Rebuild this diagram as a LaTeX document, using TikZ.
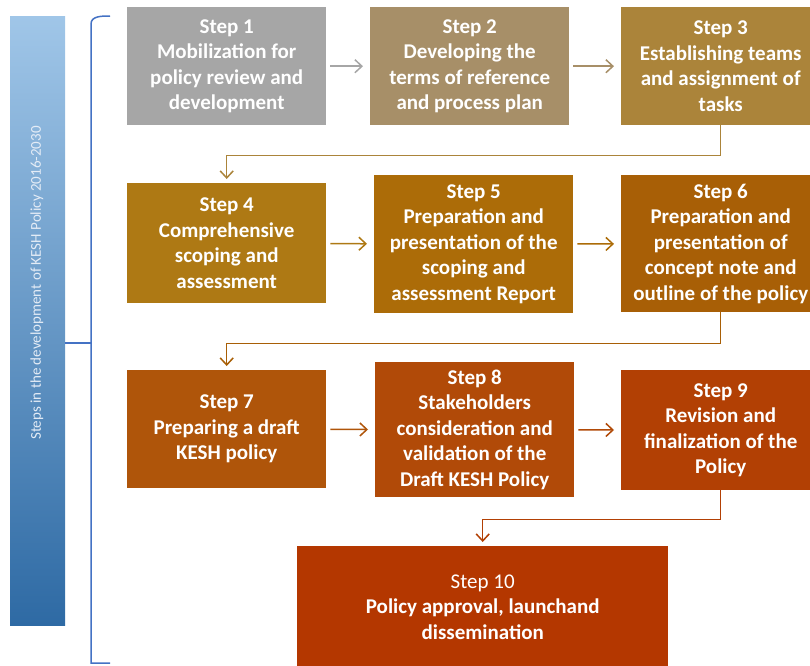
\documentclass[tikz,border=0pt]{standalone}
\usepackage{fontspec}
\setmainfont{Carlito}
\usetikzlibrary{arrows.meta}
\definecolor{stepa}{RGB}{166,166,166}
\definecolor{stepb}{RGB}{167,143,104}
\definecolor{stepc}{RGB}{171,132,58}
\definecolor{stepd}{RGB}{174,121,20}
\definecolor{stepe}{RGB}{172,108,8}
\definecolor{stepf}{RGB}{168,95,6}
\definecolor{stepg}{RGB}{175,85,10}
\definecolor{steph}{RGB}{177,74,8}
\definecolor{stepi}{RGB}{178,64,4}
\definecolor{stepj}{RGB}{180,55,0}
\definecolor{barblue}{RGB}{68,114,196}
\begin{document}
\begin{tikzpicture}[x=1pt,y=-1pt,
stepbox/.style={anchor=north west,inner sep=0pt,text=white,align=center,minimum width=199pt,minimum height=118pt,font=\bfseries\fontsize{21}{25.5}\selectfont},
link/.style={line width=1.5pt,-{Straight Barb[length=7pt,width=13pt]},shorten <=4pt,shorten >=7pt},
turn/.style={line width=1.5pt,-{Straight Barb[length=7pt,width=13pt]},shorten >=4pt}]
\useasboundingbox(0,0)rectangle(810,665);
% side bar and bracket
\node[anchor=north west,minimum width=55pt,minimum height=609pt,inner sep=0pt,top color={rgb,255:red,160;green,198;blue,232},bottom color={rgb,255:red,46;green,106;blue,164}](bar)at(10,16){};
\node[rotate=90,text={rgb,255:red,228;green,236;blue,246},font=\fontsize{15}{17}\selectfont](title)at(37,283){Steps in the development of KESH Policy 2016-2030};
\draw[barblue,line width=1.5pt](110,16)to[out=180,in=90](91,24)--(91,663)--(110,663);
\draw[barblue,line width=1.5pt](91,343)--(65,343);
% steps
\node[stepbox,fill=stepa](s1)at(127,7){Step 1\\Mobilization for\\policy review and\\development};
\node[stepbox,fill=stepb](s2)at(370,7){Step 2\\Developing the\\terms of reference\\and process plan};
\node[stepbox,fill=stepc](s3)at(621,7){Step 3\\Establishing teams\\and assignment of\\tasks};
\node[stepbox,fill=stepd,minimum height=120pt](s4)at(127,183){Step 4\\Comprehensive\\scoping and\\assessment};
\node[stepbox,fill=stepe,minimum height=138pt](s5)at(374,175){Step 5\\Preparation and\\presentation of the\\scoping and\\assessment Report};
\node[stepbox,fill=stepf,minimum height=137pt](s6)at(621,175){Step 6\\Preparation and\\presentation of\\concept note and\\outline of the policy};
\node[stepbox,fill=stepg](s7)at(127,370){Step 7\\Preparing a draft\\KESH policy};
\node[stepbox,fill=steph,minimum height=135pt](s8)at(375,362){Step 8\\Stakeholders\\consideration and\\validation of the\\Draft KESH Policy};
\node[stepbox,fill=stepi,minimum height=120pt](s9)at(621,370){Step 9\\Revision and\\finalization of the\\Policy};
\node[stepbox,fill=stepj,minimum width=371pt,minimum height=122pt](s10)at(297,546){{\mdseries Step 10}\\Policy approval, launchand\\dissemination};
% arrows
\draw[link,stepa](s1)--(s2);
\draw[link,stepb](s2)--(s3);
\draw[link,stepd](s4)--(s5);
\draw[link,stepe](s5)--(s6);
\draw[link,stepg](s7)--(s8);
\draw[link,steph](s8)--(s9);
\draw[turn,stepc](s3.south)--++(0,30)-|(s4.north);
\draw[turn,stepf](s6.south)--++(0,31)-|(s7.north);
\draw[turn,stepi](s9.south)--++(0,29)-|(s10.north);
\end{tikzpicture}
\end{document}
